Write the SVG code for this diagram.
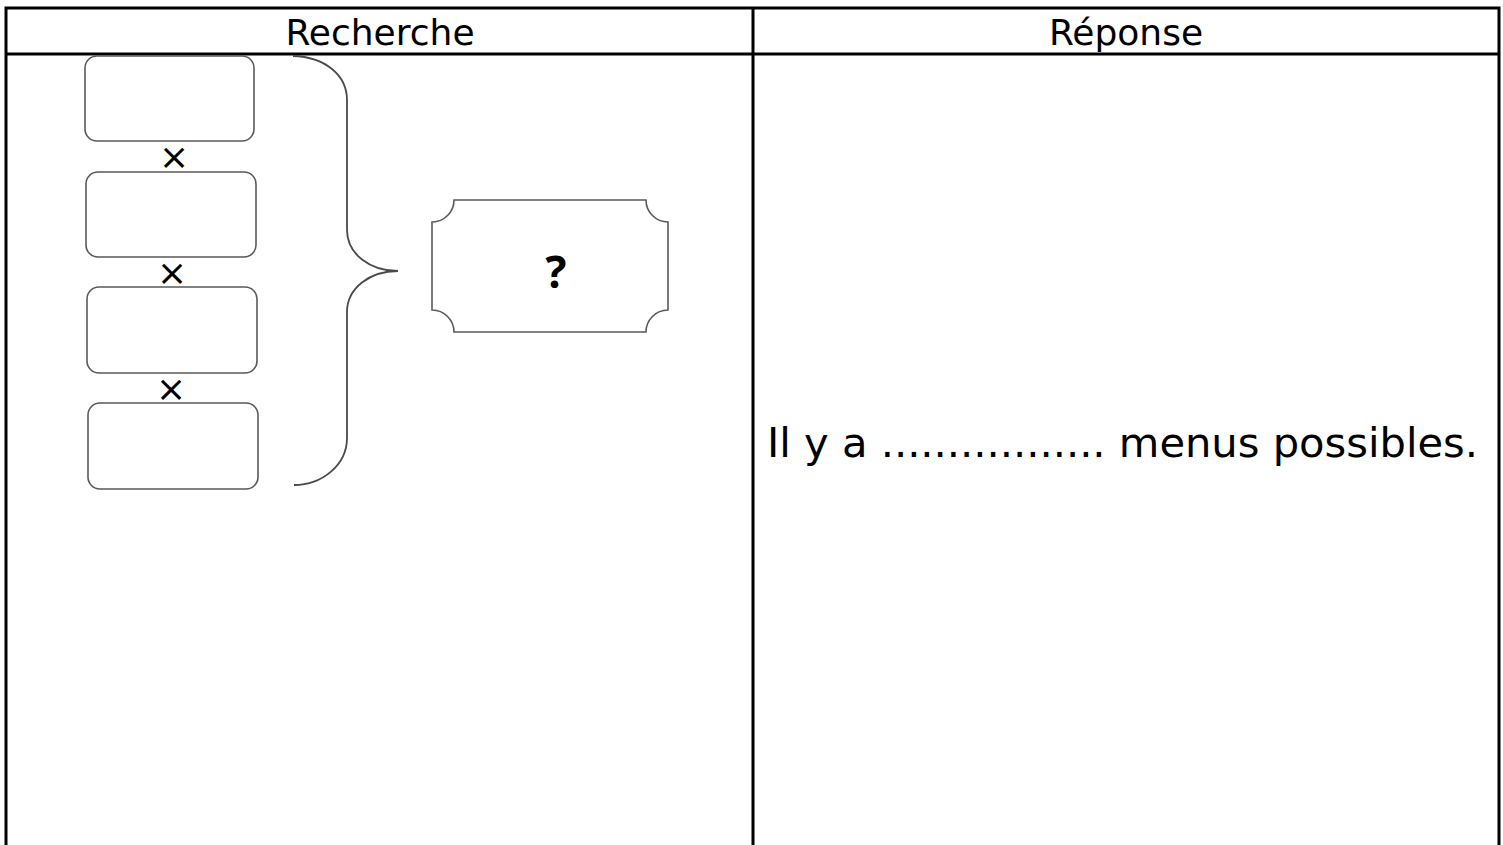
<svg xmlns="http://www.w3.org/2000/svg" width="1503" height="845" viewBox="0 0 1503 845">
<style>
.grid{stroke:#000;stroke-width:3;fill:none}
.box{fill:#fff;stroke:#5a5a5a;stroke-width:1.6}
.brace{fill:none;stroke:#4a4a4a;stroke-width:1.8}
.hdr{font-family:"DejaVu Sans",Verdana,sans-serif;font-size:36px;fill:#000;text-anchor:middle}
.mul{font-family:"DejaVu Sans",sans-serif;font-size:36px;fill:#000;text-anchor:middle}
.q{font-family:"Open Sans","DejaVu Sans",sans-serif;font-weight:bold;font-size:44px;fill:#000;text-anchor:middle}
.ans{font-family:"DejaVu Sans",Verdana,sans-serif;font-size:41px;fill:#000}
</style>
<rect width="1503" height="845" fill="#fff"/>
<g id="table">
<path class="grid" d="M6 848V8H1499V848M6 54H1499M753 8V848"/>
<text class="hdr" x="380" y="45">Recherche</text>
<text class="hdr" x="1126" y="45">Réponse</text>
</g>
<g id="box1"><rect class="box" x="85" y="56" width="169" height="85" rx="12"/></g>
<g id="box2"><rect class="box" x="86" y="172" width="170" height="85" rx="12"/></g>
<g id="box3"><rect class="box" x="87" y="287" width="170" height="86" rx="12"/></g>
<g id="box4"><rect class="box" x="88" y="403" width="170" height="86" rx="12"/></g>
<g id="mult">
<text class="mul" x="174" y="169">×</text>
<text class="mul" x="172" y="285">×</text>
<text class="mul" x="171" y="401">×</text>
</g>
<g id="connectors">
<path class="brace" d="M293 56C325 57 347 75 347 100V230C347 254 370 271 398 271C370 271 347 288 347 312V438C347 465 322 485 294 485"/>
</g>
<g id="result">
<path class="box" d="M454 200H646A22 22 0 0 0 668 222V310A22 22 0 0 0 646 332H454A22 22 0 0 0 432 310V222A22 22 0 0 0 454 200Z"/>
<text class="q" x="556" y="288">?</text>
</g>
<g id="answer">
<text class="ans" x="767" y="457" textLength="711" lengthAdjust="spacingAndGlyphs">Il y a ................. menus possibles.</text>
</g>
</svg>
